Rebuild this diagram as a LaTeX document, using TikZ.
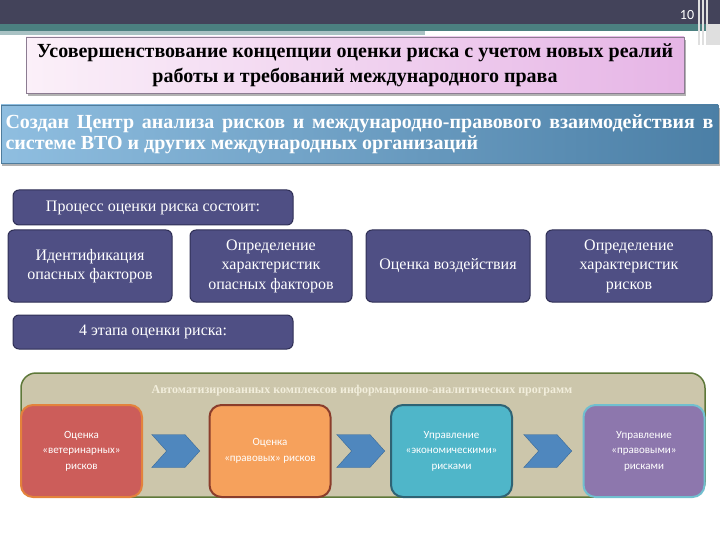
\documentclass[tikz,border=0pt]{standalone}
\usepackage{fontspec}
\setmainfont{Liberation Serif}
\newfontfamily\calibrifont{Carlito}
\usetikzlibrary{shapes.symbols, calc}
\definecolor{topdark}{HTML}{43435A}
\definecolor{topteal}{HTML}{4B8080}
\definecolor{toplight}{HTML}{A9C2C4}
\definecolor{pinkleft}{HTML}{FBF0F9}
\definecolor{pinkright}{HTML}{E6B5E6}
\definecolor{pinkedge}{HTML}{8C7C92}
\definecolor{blueleft}{HTML}{8FBEE0}
\definecolor{blueright}{HTML}{4B7FA6}
\definecolor{blueedge}{HTML}{4F7C9C}
\definecolor{darkfill}{HTML}{4F4F84}
\definecolor{darkedge}{HTML}{2F2F55}
\definecolor{panelfill}{HTML}{CCC6AB}
\definecolor{paneledge}{HTML}{5E7839}
\definecolor{paneltext}{HTML}{F2EEDC}
\definecolor{redfill}{HTML}{CC5D5A}
\definecolor{rededge}{HTML}{E3823C}
\definecolor{orangefill}{HTML}{F6A15C}
\definecolor{orangeedge}{HTML}{8B3D2B}
\definecolor{cyanfill}{HTML}{4FB6C9}
\definecolor{cyanedge}{HTML}{2F6374}
\definecolor{purplefill}{HTML}{8D77AD}
\definecolor{purpleedge}{HTML}{71BFCF}
\definecolor{chevfill}{HTML}{4F87BE}
\definecolor{chevedge}{HTML}{3A6A98}
\tikzset{
	darkbox/.style={draw=darkedge, fill=darkfill, rounded corners=6pt, line width=1pt, text=white, align=center, inner sep=0pt, font=\fontsize{16}{19.5}\selectfont},
	stagebox/.style={rounded corners=12pt, line width=2pt, text=white, align=center, inner sep=0pt, minimum width=121pt, minimum height=92pt, font=\calibrifont\fontsize{11}{15.5}\selectfont},
	chevron/.style={signal, signal from=west, signal to=east, signal pointer angle=96, draw=chevedge, fill=chevfill, minimum width=48pt, minimum height=33pt, inner sep=0pt}
}
\newcommand{\titlefont}{\bfseries\fontsize{20}{25}\selectfont}

\begin{document}
\begin{tikzpicture}[x=1pt, y=-1pt]
	\useasboundingbox (0,0) rectangle (720,540);
		% header strips
		\fill[topdark] (0,0) rectangle (720,24);
		\fill[topteal] (0,24) rectangle (720,31);
		\fill[toplight] (0,31) rectangle (425,35);
		\fill[gray!25] (707,24) rectangle (720,45);
		\foreach \x in {699,703,707} {
			\draw[white!75!gray, line width=1.2pt] (\x,0) -- (\x,45); % side rules
		};
		\node[text=white, font=\calibrifont\fontsize{14}{14}\selectfont] (pagenum) at (687,15) {10};
		% title and banner
		\fill[gray!60] (28,40) rectangle (686,96);
		\node[draw=pinkedge, left color=pinkleft, right color=pinkright, minimum width=658pt, minimum height=56pt, inner sep=0pt, align=center, font=\titlefont] (title) at (355,65)
			{Усовершенствование концепции оценки риска с учетом новых реалий\\работы и требований международного права};
		\fill[gray!60] (2,108) rectangle (720,166);
		\node[draw=blueedge, left color=blueleft, right color=blueright, minimum width=717pt, minimum height=58pt, inner sep=0pt] (banner) at (359.5,134) {};
		\node[text=white, text width=708pt, align=justify, inner sep=0pt, font=\bfseries\fontsize{20}{21}\selectfont] (bannertext) at (banner.center)
			{Создан Центр анализа рисков и международно-правового взаимодействия в\linebreak системе ВТО и других международных организаций};
		% risk assessment process
		\node[darkbox, minimum width=280pt, minimum height=35pt] (process) at (153,207.5) {Процесс оценки риска состоит:};
		\node[darkbox, minimum width=164pt, minimum height=72pt] (s1) at (90,266) {Идентификация\\опасных факторов};
		\node[darkbox, minimum width=162pt, minimum height=72pt] (s2) at (271,266) {Определение\\характеристик\\опасных факторов};
		\node[darkbox, minimum width=164pt, minimum height=72pt] (s3) at (448,266) {Оценка воздействия};
		\node[darkbox, minimum width=166pt, minimum height=72pt] (s4) at (629,266) {Определение\\характеристик\\рисков};
		\node[darkbox, minimum width=280pt, minimum height=34pt] (stages) at (153,332) {4 этапа оценки риска:};
		% automated complexes
		\node[draw=paneledge, fill=panelfill, line width=1.5pt, rounded corners=15pt, minimum width=684pt, minimum height=124pt, inner sep=0pt] (panel) at (363,435) {};
		\node[text=paneltext, font=\bfseries\fontsize{12}{12}\selectfont] (paneltitle) at (362,391) {Автоматизированных комплексов  информационно-аналитических программ};
		\node[stagebox, draw=rededge, fill=redfill] (r1) at (81.5,451) {Оценка\\«ветеринарных»\\рисков};
		\node[stagebox, draw=orangeedge, fill=orangefill] (r2) at (270,451) {Оценка\\«правовых» рисков};
		\node[stagebox, draw=cyanedge, fill=cyanfill] (r3) at (451.5,451) {Управление\\«экономическими»\\рисками};
		\node[stagebox, draw=purpleedge, fill=purplefill] (r4) at (644,451) {Управление\\«правовыми»\\рисками};
		\node[chevron] (c1) at ($(r1.east)!0.5!(r2.west)$) {};
		\node[chevron] (c2) at ($(r2.east)!0.5!(r3.west)$) {};
		\node[chevron] (c3) at ($(r3.east)!0.5!(r4.west)$) {};
	\end{tikzpicture}
\end{document}
